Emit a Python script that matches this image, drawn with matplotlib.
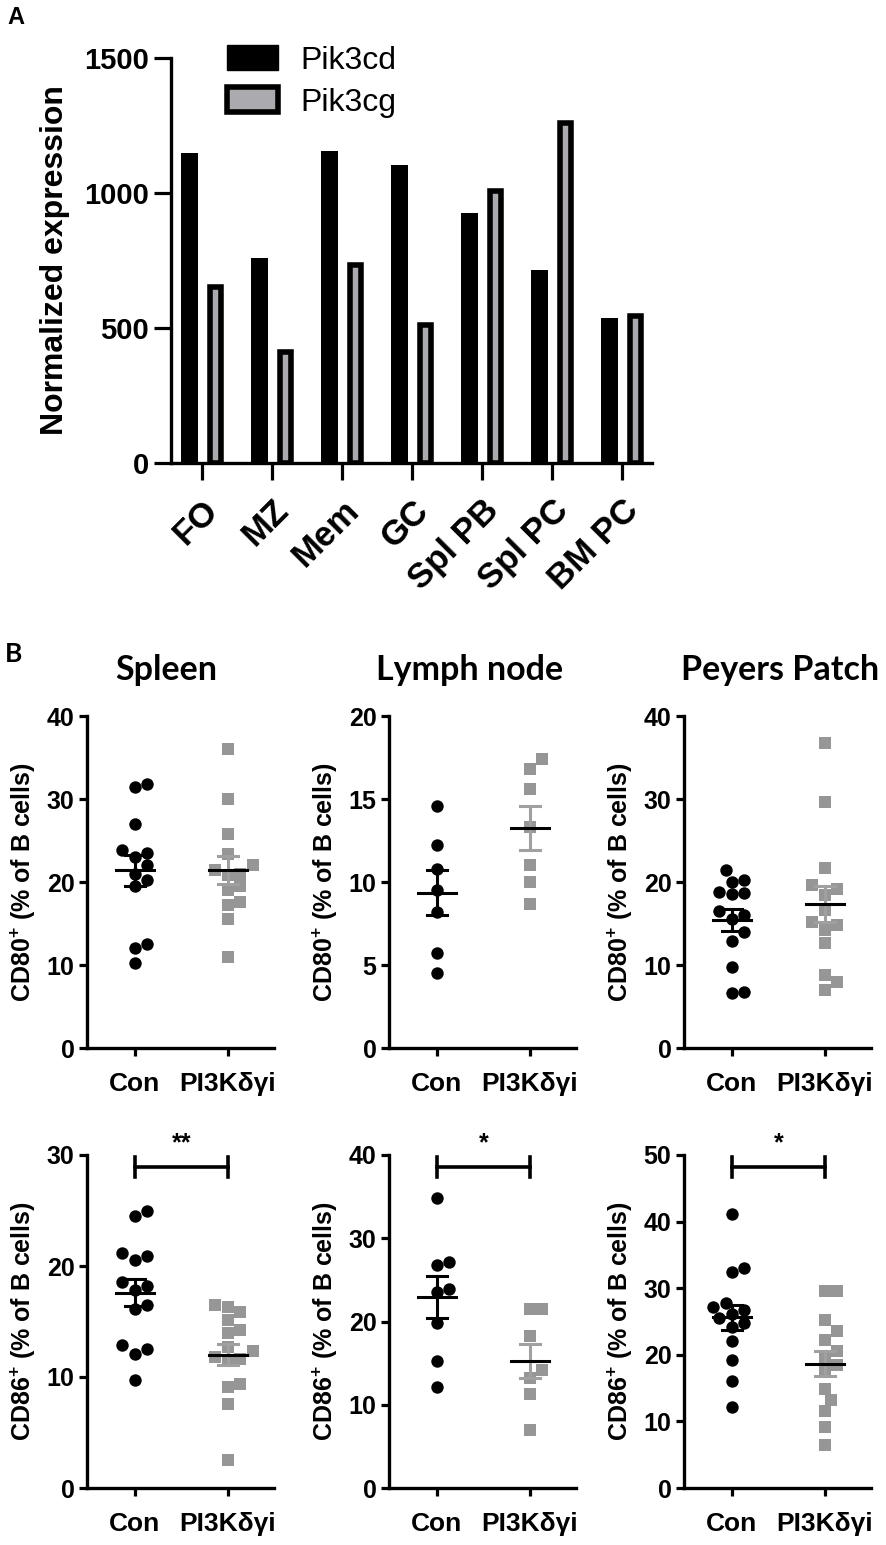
import numpy as np
import matplotlib
matplotlib.use('Agg')
import matplotlib.pyplot as plt
from matplotlib.patches import Patch
from matplotlib.transforms import blended_transform_factory, ScaledTranslation

plt.rcParams['font.family'] = ['Liberation Sans', 'DejaVu Sans']
plt.rcParams['mathtext.fontset'] = 'custom'
plt.rcParams['mathtext.rm'] = 'Liberation Sans:bold'
plt.rcParams['mathtext.bf'] = 'Liberation Sans:bold'

# ---- panel A data ----
cells = ['FO', 'MZ', 'Mem', 'GC', 'Spl PB', 'Spl PC', 'BM PC']
pik3cd = [1150, 760, 1155, 1105, 927, 715, 536]
pik3cg = [652, 410, 732, 510, 1008, 1258, 544]

# ---- panel B data ----
groups = ['Con', 'PI3Kδγi']
tissues = ['Spleen', 'Lymph node', 'Peyers Patch']

spl_cd80_con = [31.5, 31.8, 27.0, 23.8, 23.5, 23.0, 22.0, 21.0, 20.3, 19.5, 12.5, 12.0, 10.2]
spl_cd80_pi3k = [36.0, 30.0, 25.8, 23.4, 22.0, 21.0, 21.5, 20.8, 19.5, 19.0, 17.6, 17.2, 15.6, 11.0]
ln_cd80_con = [14.6, 12.2, 10.8, 9.5, 8.2, 5.7, 4.5]
ln_cd80_pi3k = [17.4, 16.8, 15.6, 13.3, 11.0, 10.0, 8.7]
pp_cd80_con = [21.4, 20.3, 20.0, 18.8, 18.7, 18.5, 16.5, 16.0, 15.5, 14.0, 12.9, 9.8, 6.7, 6.6]
pp_cd80_pi3k = [36.8, 29.6, 21.7, 19.6, 19.2, 18.4, 16.6, 15.2, 14.8, 14.2, 12.7, 8.8, 8.0, 7.0]

spl_cd86_con = [25.0, 24.5, 21.2, 20.9, 20.5, 18.6, 18.2, 17.8, 16.5, 16.1, 12.9, 12.5, 12.1, 9.7]
spl_cd86_pi3k = [16.5, 16.3, 15.9, 15.1, 14.2, 14.0, 12.7, 12.3, 11.8, 11.6, 11.4, 9.4, 9.1, 7.6, 2.5]
ln_cd86_con = [34.8, 27.2, 26.8, 23.9, 23.5, 19.8, 15.3, 12.1]
ln_cd86_pi3k = [21.5, 21.5, 18.2, 14.2, 13.2, 11.3, 7.0]
pp_cd86_con = [41.2, 33.0, 32.5, 27.8, 27.2, 26.8, 26.2, 25.5, 24.8, 24.2, 22.0, 19.2, 16.0, 12.1]
pp_cd86_pi3k = [29.6, 29.6, 25.2, 23.6, 22.2, 20.6, 19.5, 18.5, 17.5, 14.8, 13.2, 11.5, 9.2, 6.5]

cd80_data = [(spl_cd80_con, spl_cd80_pi3k), (ln_cd80_con, ln_cd80_pi3k), (pp_cd80_con, pp_cd80_pi3k)]
cd86_data = [(spl_cd86_con, spl_cd86_pi3k), (ln_cd86_con, ln_cd86_pi3k), (pp_cd86_con, pp_cd86_pi3k)]
cd80_ymax = [40, 20, 40]
cd80_step = [10, 5, 10]
cd86_ymax = [30, 40, 50]
cd86_step = [10, 10, 10]
cd86_stars = ['**', '*', '*']

W, H = 886, 1545
fig = plt.figure(figsize=(W / 100, H / 100), dpi=100)

# ================= panel A =================
ax = fig.add_axes([171 / W, 1 - 463 / H, 481 / W, 405 / H])
x = np.arange(len(cells))
ax.bar(x - 0.17, pik3cd, width=0.243, color='black')
ax.bar(x + 0.20, pik3cg, width=0.16, color='#aaaaaf', edgecolor='black', linewidth=4.0)
ax.set_xlim(-0.44, 6.43)
ax.set_ylim(0, 1500)
ax.set_yticks([0, 500, 1000, 1500])
ax.set_xticks(x)
ax.set_xticklabels(cells, rotation=45, ha='right', rotation_mode='anchor',
                   fontsize=25, fontweight='bold')
for lab in ax.get_yticklabels():
    lab.set_fontsize(21)
    lab.set_fontweight('bold')
ax.tick_params(axis='both', direction='out', length=12, width=2.3, pad=4)
ax.tick_params(axis='x', pad=10)
for s in ['top', 'right']:
    ax.spines[s].set_visible(False)
for s in ['left', 'bottom']:
    ax.spines[s].set_linewidth(2.4)
ax.set_ylabel('Normalized expression', fontsize=23, fontweight='bold', labelpad=10)
handles = [Patch(facecolor='black', edgecolor='black'),
           Patch(facecolor='#aaaaaf', edgecolor='black', linewidth=4.0)]
ax.legend(handles, ['Pik3cd', 'Pik3cg'], loc='upper left', frameon=False,
          bbox_to_anchor=(227 / W, 1 - 45 / H), bbox_transform=fig.transFigure,
          fontsize=23, handlelength=1.6, handleheight=0.85, handletextpad=0.7,
          labelspacing=0.35, borderpad=0, borderaxespad=0)
fig.text(7 / W, 1 - 17 / H, 'A', fontsize=17, fontweight='bold', va='center')

# ================= panel B =================
fig.text(5 / W, 1 - 654 / H, 'B', fontsize=19, fontweight='bold', va='center',
         family='Lato')
title_x = [166, 470, 780]
for t, tx in zip(tissues, title_x):
    fig.text(tx / W, 1 - 670 / H, t, fontsize=24.5, fontweight='bold', ha='center',
             va='center', family='Lato')

col_left = [87, 389, 684]
grey = '#969696'
sem_grey = '#a0a0a0'
label_shift = [-5, 12]  # pixel nudges of the group labels, as in the original


def swarm(ax, x0, vals, d):
    vals = np.asarray(vals, dtype=float)
    pts = ax.transData.transform(np.column_stack([np.full(len(vals), x0), vals]))
    order = np.argsort(vals)
    placed = []
    out = np.zeros_like(pts)
    offsets = [0.0]
    for k in range(1, 12):
        offsets += [k * d * 0.5, -k * d * 0.5]
    for i in order:
        px, py = pts[i]
        for off in offsets:
            cx = px + off
            if all((cx - qx) ** 2 + (py - qy) ** 2 >= (0.95 * d) ** 2 for qx, qy in placed):
                break
        placed.append((cx, py))
        out[i] = (cx, py)
    return ax.transData.inverted().transform(out)[:, 0]


def dot_panel(ax, con, trt, ymax, step, ylabel):
    ax.set_xlim(0.484, 2.495)
    ax.set_ylim(0, ymax)
    d = 12.5
    xc = swarm(ax, 1, con, d)
    xt = swarm(ax, 2, trt, d)
    ax.scatter(xc, con, s=80, marker='o', color='black', linewidths=0, zorder=3, clip_on=False)
    ax.scatter(xt, trt, s=80, marker='s', color=grey, linewidths=0, zorder=3, clip_on=False)
    for xpos, vals, ecol in [(1, con, 'black'), (2, trt, sem_grey)]:
        m = np.mean(vals)
        se = np.std(vals, ddof=1) / np.sqrt(len(vals))
        ax.plot([xpos - 0.2, xpos + 0.2], [m, m], color='black', lw=2.2, zorder=5)
        ax.plot([xpos, xpos], [m - se, m + se], color=ecol, lw=2.2, zorder=4)
        for yy in (m - se, m + se):
            ax.plot([xpos - 0.11, xpos + 0.11], [yy, yy], color=ecol, lw=2.2, zorder=4)
    ax.set_yticks(np.arange(0, ymax + 0.1, step))
    ax.set_xticks([1, 2])
    ax.set_xticklabels(groups, fontsize=19, fontweight='bold')
    for lab, dx in zip(ax.get_xticklabels(), label_shift):
        lab.set_transform(lab.get_transform() +
                          ScaledTranslation(dx / 100, 0, fig.dpi_scale_trans))
    for lab in ax.get_yticklabels():
        lab.set_fontsize(18)
        lab.set_fontweight('bold')
    ax.tick_params(axis='both', direction='out', length=6, width=2.3, pad=3)
    ax.tick_params(axis='x', pad=11)
    for s in ['top', 'right']:
        ax.spines[s].set_visible(False)
    for s in ['left', 'bottom']:
        ax.spines[s].set_linewidth(2.4)
    ax.set_ylabel(ylabel, fontsize=18, fontweight='bold', labelpad=6)


lab80 = r'CD80$^{+}$ (% of B cells)'
lab86 = r'CD86$^{+}$ (% of B cells)'
for j in range(3):
    ax = fig.add_axes([col_left[j] / W, 1 - 1048 / H, 187 / W, 332 / H])
    dot_panel(ax, cd80_data[j][0], cd80_data[j][1], cd80_ymax[j], cd80_step[j], lab80)

    ax = fig.add_axes([col_left[j] / W, 1 - 1488 / H, 187 / W, 333 / H])
    dot_panel(ax, cd86_data[j][0], cd86_data[j][1], cd86_ymax[j], cd86_step[j], lab86)
    tr = blended_transform_factory(ax.transData, ax.transAxes)
    yb = 0.964
    ax.plot([1, 2], [yb, yb], color='black', lw=2.6, transform=tr, clip_on=False)
    for xe in (1, 2):
        ax.plot([xe, xe], [yb - 0.03, yb + 0.03], color='black', lw=2.6, transform=tr,
                clip_on=False)
    ax.text(1.5, yb + 0.035, cd86_stars[j], transform=tr, ha='center', va='bottom',
            fontsize=18, fontweight='bold')

fig.savefig('out.png', dpi=100)
